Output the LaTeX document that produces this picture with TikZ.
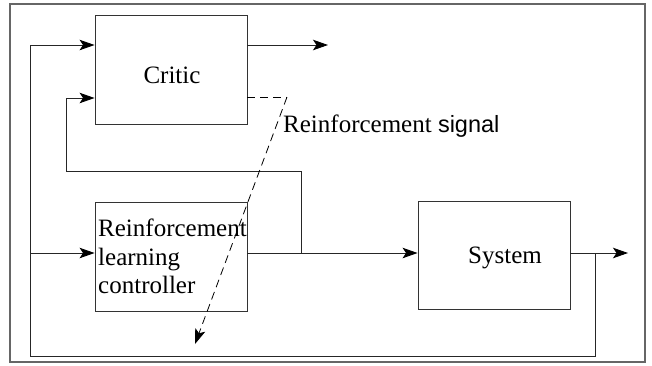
\documentclass[tikz,border=0pt]{standalone}
\usepackage{fontspec}
\setmainfont{Liberation Serif}
\newfontfamily\arialfont{Liberation Sans}
\usetikzlibrary{arrows.meta}
\begin{document}
\begin{tikzpicture}[x=1pt,y=-1pt,
  blk/.style={draw=black!80,line width=0.9pt,minimum width=152pt,inner sep=0pt},
  txt/.style={font=\fontsize{25}{28.5}\selectfont,inner sep=0pt},
  tip/.style={-{Stealth[length=15pt,width=10.5pt,inset=3.5pt,color=black]}},
  wire/.style={draw=black!85,line width=0.9pt},
  arr/.style={wire,tip},
  dsh/.style={draw=black,line width=0.8pt,dash pattern=on 8pt off 5pt}]
\useasboundingbox (0,0) rectangle (652,365);
\draw[draw=black!60,line width=1.3pt] (10,4) rectangle (645,362);
% blocks
\node[blk,minimum height=109pt] (critic) at (171,69.5) {};
\node[blk,minimum height=109pt] (ctrl) at (171,256.5) {};
\node[blk,minimum height=108pt] (sys) at (494,255) {};
% texts
\node[txt] (tcritic) at (172,75) {Critic};
\node[txt,anchor=west,align=left] (tctrl) at (98,256.5) {Reinforcement\\learning\\controller};
\node[txt] (tsys) at (505,258) {System};
\node[txt,anchor=base west] (tsig) at (283,132) {Reinforcement {\arialfont\fontsize{23.5}{28}\selectfont signal}};
% coordinates
\coordinate (c1) at (30,45);
\coordinate (c1b) at (30,253);
\coordinate (c1c) at (30,356);
\coordinate (c2) at (66,98);
\coordinate (c2b) at (66,171);
\coordinate (fb) at (301,171);
\coordinate (fbj) at (301,253);
\coordinate (cout) at (328,45);
\coordinate (sj) at (595,253);
\coordinate (sb) at (595,356);
\coordinate (sout) at (628,253);
\coordinate (ds) at (287,97);
\coordinate (dend) at (195,344);
% connectors
\draw[arr] (sj) |- (sb) -- (c1c) -- (c1) -- (critic.west |- c1);
\draw[arr] (c1b) -- (ctrl.west |- c1b);
\draw[arr] (fbj) |- (fb) -- (c2b) -- (c2) -- (critic.west |- c2);
\draw[arr] (critic.east |- c1) -- (cout);
\draw[arr] (ctrl.east |- fbj) -- (sys.west |- fbj);
\draw[arr] (sys.east |- sj) -- (sout);
\draw[dsh] (critic.east |- ds) -- (ds);
\draw[dsh,tip] (ds) -- (dend);
\end{tikzpicture}
\end{document}
